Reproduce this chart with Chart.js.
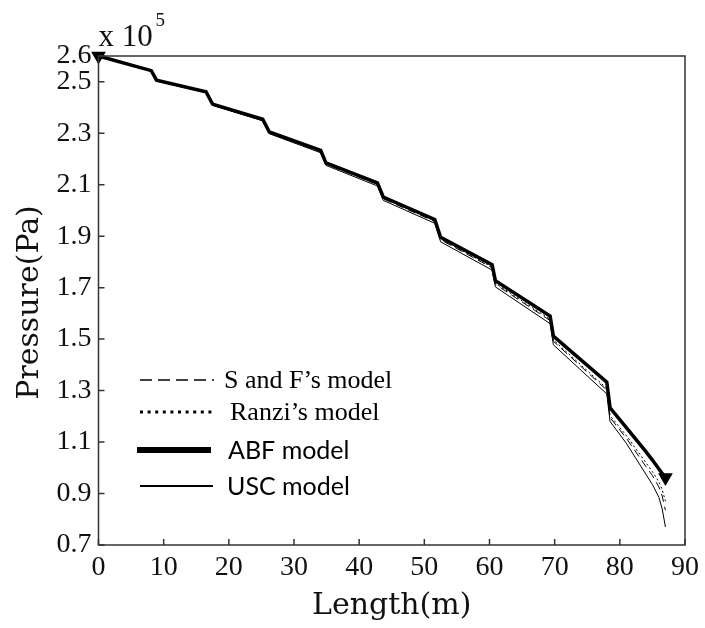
<!DOCTYPE html>
<html>
<head>
<meta charset="utf-8">
<script src="https://cdn.jsdelivr.net/npm/chart.js@4.4.1/dist/chart.umd.min.js"></script>
<style>
  html, body { margin: 0; padding: 0; background: #fff; }
</style>
</head>
<body>
<canvas id="pressureChart" width="705" height="628"></canvas>
<script>
// length along the pipe (m)
const lengths = [0, 8.1, 8.9, 16.5, 17.5, 25.2, 26.2, 34.1, 34.9, 42.8, 43.7, 51.6, 52.5,
  60.4, 60.9, 69.3, 69.8, 78.0, 78.5, 81.0, 84.0, 85.0, 86.0, 86.5, 87.0];

// pressure, in units of 10^5 Pa
const pressureSF = [2.600, 2.542, 2.504, 2.459, 2.410, 2.351, 2.301, 2.228, 2.180, 2.101, 2.045, 1.957, 1.886,
  1.777, 1.713, 1.572, 1.492, 1.302, 1.195, 1.115, 1.005, 0.970, 0.925, 0.890, 0.835];
const pressureRanzi = [2.600, 2.542, 2.505, 2.460, 2.411, 2.352, 2.302, 2.230, 2.181, 2.102, 2.047, 1.959, 1.889,
  1.780, 1.717, 1.577, 1.497, 1.308, 1.203, 1.125, 1.020, 0.985, 0.945, 0.915, 0.870];
const pressureABF = [2.600, 2.543, 2.506, 2.461, 2.413, 2.354, 2.305, 2.233, 2.185, 2.107, 2.052, 1.965, 1.896,
  1.789, 1.727, 1.590, 1.512, 1.333, 1.233, 1.156, 1.063, 1.030, 0.995, 0.978, 0.962];
const pressureUSC = [2.600, 2.541, 2.503, 2.457, 2.408, 2.348, 2.298, 2.224, 2.175, 2.095, 2.039, 1.950, 1.878,
  1.768, 1.703, 1.560, 1.478, 1.287, 1.180, 1.095, 0.975, 0.935, 0.885, 0.840, 0.770];

const seriesNames = ["S and F\u2019s model", "Ranzi\u2019s model", "ABF model", "USC model"];
const xTicks = [0, 10, 20, 30, 40, 50, 60, 70, 80, 90];
const yTicks = [0.7, 0.9, 1.1, 1.3, 1.5, 1.7, 1.9, 2.1, 2.3, 2.5, 2.6];

function toPoints(ys) {
  return lengths.map((x, i) => ({ x: x, y: ys[i] }));
}

// legend drawn inside the plot, like the original figure
const legendRows = [
  { lineY: 380, textX: 224, lineW: 1.5, dash: [12, 6], font: '26px "Liberation Serif"', x0: 140, x1: 214 },
  { lineY: 412, textX: 230, lineW: 3, dash: [3, 4.6], font: '26px "Liberation Serif"', x0: 140, x1: 212 },
  { lineY: 450, textX: 228, lineW: 6, dash: [], font: '25px Lato', x0: 137, x1: 211 },
  { lineY: 486, textX: 227, lineW: 2, dash: [], font: '25px Lato', x0: 140, x1: 213 }
];

const framePlugin = {
  id: 'framePlugin',
  afterDraw(chart) {
    const { ctx, chartArea: a, scales } = chart;
    ctx.save();
    ctx.strokeStyle = '#333';
    ctx.lineWidth = 1.5;
    ctx.strokeRect(a.left, a.top, a.right - a.left, a.bottom - a.top);

    // ticks pointing inwards
    ctx.beginPath();
    scales.x.ticks.forEach(t => {
      const px = scales.x.getPixelForValue(t.value);
      ctx.moveTo(px, a.bottom);
      ctx.lineTo(px, a.bottom - 6);
    });
    scales.y.ticks.forEach(t => {
      const py = scales.y.getPixelForValue(t.value);
      ctx.moveTo(a.left, py);
      ctx.lineTo(a.left + 6, py);
    });
    ctx.stroke();

    ctx.fillStyle = '#111';
    // exponent
    ctx.textBaseline = 'alphabetic';
    ctx.textAlign = 'left';
    ctx.font = '31px "Liberation Serif"';
    ctx.fillText('x 10', a.left, 46);
    ctx.font = '19px "Liberation Serif"';
    ctx.fillText('5', a.left + 57, 26);

    // axis titles
    ctx.font = '30px "DejaVu Serif"';
    ctx.textAlign = 'center';
    ctx.textBaseline = 'middle';
    ctx.fillText('Length(m)', (a.left + a.right) / 2, 606);
    ctx.save();
    ctx.translate(30, (a.top + a.bottom) / 2 + 2);
    ctx.rotate(-Math.PI / 2);
    ctx.fillText('Pressure(Pa)', 0, 0);
    ctx.restore();

    // legend
    ctx.textAlign = 'left';
    chart.data.datasets.forEach((ds, i) => {
      const row = legendRows[i];
      ctx.strokeStyle = '#000';
      ctx.lineWidth = row.lineW;
      ctx.setLineDash(row.dash);
      ctx.beginPath();
      ctx.moveTo(row.x0, row.lineY);
      ctx.lineTo(row.x1, row.lineY);
      ctx.stroke();
      ctx.setLineDash([]);
      ctx.font = row.font;
      ctx.fillStyle = '#000';
      ctx.textBaseline = 'middle';
      ctx.fillText(ds.label, row.textX, row.lineY + 1);
    });
    ctx.restore();
  }
};

const lastIndex = lengths.length - 1;

new Chart(document.getElementById('pressureChart'), {
  type: 'line',
  data: {
    datasets: [
      { label: seriesNames[0], data: toPoints(pressureSF), borderColor: '#000', borderWidth: 1, borderDash: [8, 5], pointRadius: 0, order: 1 },
      { label: seriesNames[1], data: toPoints(pressureRanzi), borderColor: '#000', borderWidth: 1, borderDash: [2, 2.5], pointRadius: 0, order: 1 },
      {
        label: seriesNames[2], data: toPoints(pressureABF), borderColor: '#000', borderWidth: 3.5, order: 0,
        pointStyle: 'triangle', rotation: 180, backgroundColor: '#000', pointBorderWidth: 0,
        pointRadius: ctx => (ctx.dataIndex === 0 || ctx.dataIndex === lastIndex) ? 8.5 : 0,
        clip: false
      },
      { label: seriesNames[3], data: toPoints(pressureUSC), borderColor: '#000', borderWidth: 1, pointRadius: 0, order: 1 }
    ]
  },
  options: {
    responsive: false,
    animation: false,
    devicePixelRatio: 1,
    layout: { padding: { left: 0, right: 18, top: 56, bottom: 0 } },
    plugins: { legend: { display: false }, tooltip: { enabled: false } },
    scales: {
      x: {
        type: 'linear', min: 0, max: 90,
        afterBuildTicks: scale => { scale.ticks = xTicks.map(v => ({ value: v })); },
        afterFit: scale => { scale.height = 83; },
        grid: { display: false, drawTicks: false },
        border: { display: false },
        ticks: { autoSkip: false, padding: 6, color: '#111', font: { family: 'Liberation Serif', size: 28 } }
      },
      y: {
        type: 'linear', min: 0.7, max: 2.6,
        afterBuildTicks: scale => { scale.ticks = yTicks.map(v => ({ value: v })); },
        afterFit: scale => { scale.width = 98.5; },
        grid: { display: false, drawTicks: false },
        border: { display: false },
        ticks: {
          autoSkip: false, padding: 7, color: '#111', font: { family: 'Liberation Serif', size: 28 },
          callback: v => v.toFixed(1)
        }
      }
    }
  },
  plugins: [framePlugin]
});
</script>
</body>
</html>
